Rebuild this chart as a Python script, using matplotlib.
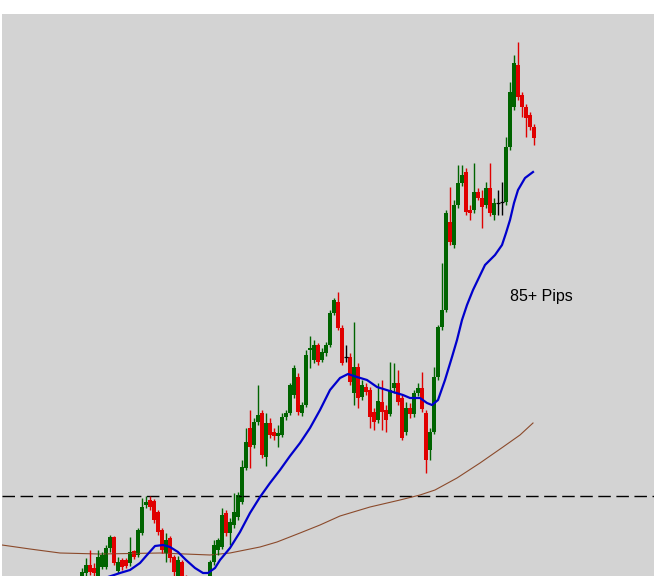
import matplotlib
matplotlib.use("Agg")
import matplotlib.pyplot as plt
import numpy as np

# candle data (price points, one candle per bar)
opens = [-6, 3, 11, 8, 0, 9, 9, 28, 39, 5,
         16, 16, 13, 25, 21, 43, 71, 76, 75, 64,
         46, 23, 38, 19, 0, 14, -2, -12, -21, -14,
         -22, -16, -2, 14, 26, 29, 63, 43, 51, 59,
         74, 108, 148, 131, 154, 163, 119, 153, 144, 140,
         141, 159, 163, 181, 199, 163, 171, 226, 216, 231,
         216, 223, 231, 263, 274, 248, 219, 219, 183, 209,
         179, 189, 186, 164, 156, 174, 166, 162, 188, 193,
         178, 144, 168, 162, 183, 188, 163, 126, 144, 199,
         249, 266, 354, 331, 371, 393, 404, 366, 366, 384,
         378, 371, 388, 361, 373, 374, 374, 429, 469, 511,
         481, 469, 461, 449]
highs = [8, 18, 26, 13, 26, 24, 31, 41, 40, 19,
         18, 18, 39, 26, 48, 78, 80, 80, 77, 66,
         48, 43, 40, 21, 20, 16, 1, -8, -10, -10,
         -8, -2, 16, 36, 38, 68, 66, 58, 83, 84,
         116, 148, 166, 158, 191, 166, 163, 158, 148, 151,
         163, 166, 193, 211, 203, 174, 226, 240, 236, 233,
         228, 234, 266, 278, 284, 251, 231, 223, 254, 213,
         196, 193, 189, 168, 193, 196, 171, 214, 213, 206,
         181, 174, 173, 186, 193, 204, 166, 148, 209, 251,
         313, 366, 389, 376, 411, 411, 408, 371, 413, 388,
         386, 394, 413, 378, 386, 394, 439, 494, 521, 534,
         484, 472, 464, 452]
lows = [-8, 0, 1, -2, -2, 7, 7, 24, 11, 3,
        6, 8, 10, 17, 19, 41, 68, 66, 53, 41,
        23, 14, 14, -2, -2, -6, -18, -24, -24, -26,
        -26, -18, -4, 11, 21, 27, 40, 31, 48, 56,
        72, 106, 108, 128, 151, 118, 110, 138, 136, 129,
        139, 156, 161, 178, 161, 160, 169, 208, 213, 211,
        214, 220, 229, 261, 246, 211, 214, 191, 171, 168,
        176, 181, 148, 146, 153, 146, 144, 160, 183, 171,
        136, 141, 158, 159, 180, 164, 103, 116, 142, 196,
        246, 264, 331, 328, 368, 390, 361, 356, 363, 376,
        348, 368, 360, 356, 361, 361, 371, 426, 466, 476,
        459, 439, 446, 431]
closes = [4, 11, 4, 3, 19, 21, 28, 39, 13, 14,
          9, 10, 24, 19, 46, 69, 74, 69, 56, 44,
          26, 36, 18, 4, 16, -2, -14, -20, -14, -22,
          -12, -4, 14, 31, 36, 61, 43, 54, 64, 81,
          109, 134, 129, 154, 161, 121, 153, 141, 140, 143,
          159, 163, 191, 208, 164, 171, 221, 228, 231, 214,
          224, 231, 263, 276, 248, 213, 219, 194, 209, 178,
          191, 184, 159, 154, 175, 164, 156, 186, 193, 174,
          138, 168, 162, 183, 188, 167, 116, 144, 199, 249,
          266, 363, 334, 371, 393, 401, 364, 363, 384, 378,
          369, 388, 363, 373, 373, 374, 429, 484, 513, 479,
          469, 458, 449, 438]

# fast moving average (blue), read at bar positions
fast_x = [6.5, 9.5, 12, 14.5, 16.25, 18.25, 20.25, 22, 24, 26, 28.25, 30.25, 31.5,
          33.25, 34.5, 37, 39.5, 42, 44.5, 47, 49.5, 52, 54.5, 57, 59.5, 62, 64.5,
          66.5, 68.75, 71.25, 73.75, 77.75, 80.25, 82, 84.5, 86.25, 87.5, 89,
          90.75, 92.5, 93.75, 95, 96.25, 97.75, 100.75, 103.25, 105, 106, 107, 108,
          109, 110.75, 112.75]
fast_y = [-1, 3, 6, 13, 21, 30, 31, 29, 24, 16, 8, 3, 3,
          8, 16, 28, 44, 63, 79, 93, 106, 120, 133, 148, 166, 186, 198,
          202, 199, 196, 189, 184, 181, 178, 178, 173, 171, 176,
          196, 219, 236, 256, 271, 286, 311, 321, 331, 343, 356, 373,
          386, 398, 404]

# slow moving average (brown)
slow_x = [-20, -13, -5.5, 4.5, 19.5, 32, 37, 44.5, 48.75, 54.5, 59.5, 64.5,
          72, 79.5, 84.5, 88.25, 93.75, 99.5, 105.25, 109.5, 112.75]
slow_y = [31, 27, 23, 22, 23, 21, 23, 29, 34, 43, 51, 60,
          69, 76, 81, 86, 98, 113, 129, 141, 153]

level = 80

fig = plt.figure(figsize=(6.54, 5.76), dpi=100)
ax = fig.add_axes([2 / 654, 0, 652 / 654, 562 / 576])
ax.set_facecolor('#d3d3d3')

o = np.array(opens)
c = np.array(closes)
idx = np.arange(len(o))
cols = np.where(c > o, '#006400', np.where(c < o, '#e00000', 'black'))

ax.axhline(level, color='black', lw=1.0, dashes=(9, 4))
ax.plot(slow_x, slow_y, color='#8b4a2b', lw=0.8)

ax.vlines(idx, lows, highs, colors=cols, lw=1.0)
ax.bar(idx, c - o, bottom=o, width=0.82, color=cols)
doji = c == o
ax.hlines(c[doji], idx[doji] - 0.4, idx[doji] + 0.4, colors='black', lw=0.9)

ax.plot(fast_x, fast_y, color='#0000cc', lw=1.6)

ax.text(107, 279, '85+ Pips', fontsize=11.5, family='Liberation Sans', va='center')

ax.set_xlim(-20, 143)
ax.set_ylim(0, 562)
ax.set_xticks([])
ax.set_yticks([])
for s in ax.spines.values():
    s.set_visible(False)

plt.savefig('out.png', dpi=100)
